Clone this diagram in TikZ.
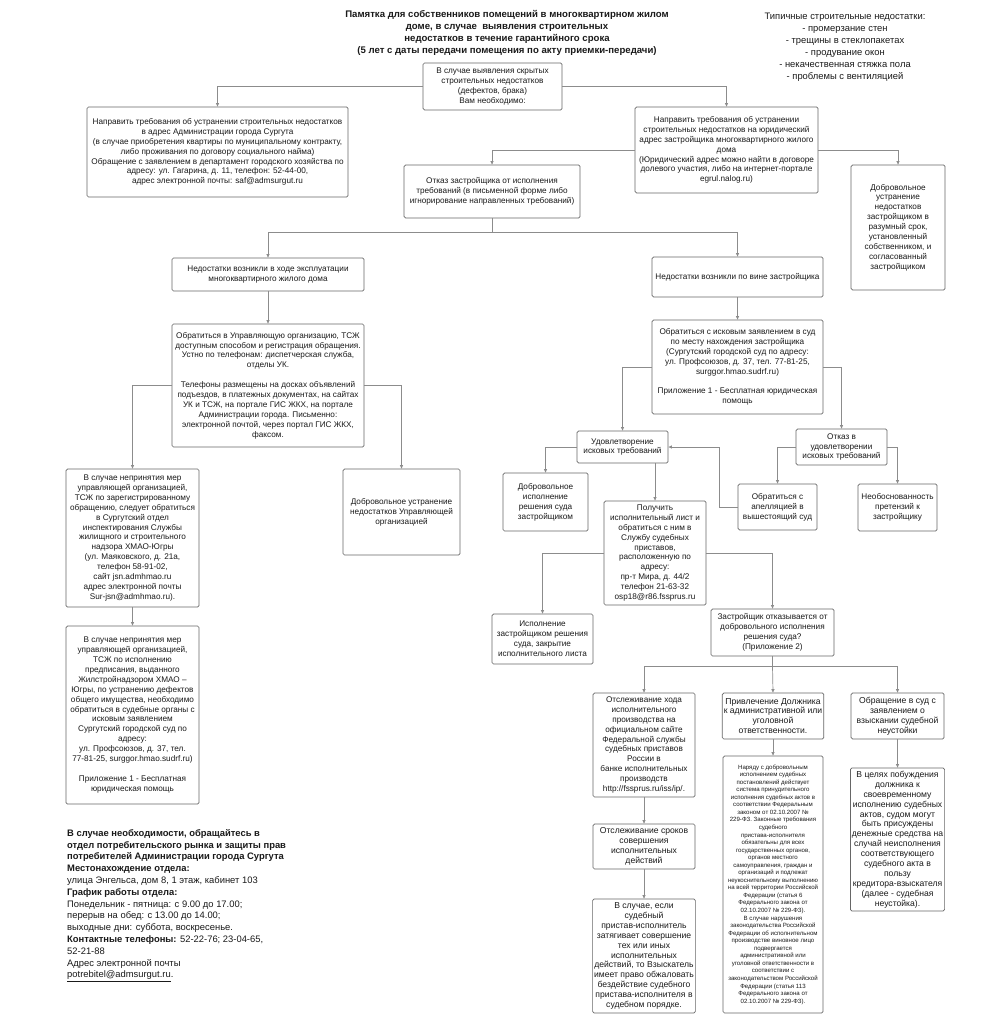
\documentclass[tikz,border=0pt]{standalone}
\usepackage{fontspec}
\setmainfont{Liberation Sans}
\usetikzlibrary{arrows.meta, positioning}

\definecolor{edge}{HTML}{666666}
\definecolor{wire}{HTML}{8C8C8C}
\definecolor{ink}{HTML}{1A1A1A}

\begin{document}
\begin{tikzpicture}[
		x=1pt, y=-1pt,
		box/.style={rectangle, draw=edge, line width=0.7pt, rounded corners=1.5pt, fill=white, align=center, inner sep=1.5pt, text=ink, font=\fontsize{8.2}{9.9}\selectfont},
		bigbox/.style={box, font=\fontsize{8.6}{9.9}\selectfont},
		tinybox/.style={box, font=\fontsize{6.1}{7.55}\selectfont},
		line/.style={draw=wire, line width=0.7pt},
		arrow/.style={line, -{Triangle[length=3.5pt, width=3pt]}}
		]
		\useasboundingbox[fill=white] (0,0) rectangle (980,1024);

		\node[align=center, text=ink, font=\fontsize{9.6}{12.1}\selectfont\bfseries] (title) at (507,33) {Памятка для собственников помещений в многоквартирном жилом\\доме, в случае\ \ выявления строительных\\недостатков в течение гарантийного срока\\(5 лет с даты передачи помещения по акту приемки-передачи)};
		\node[align=center, text=ink, font=\fontsize{9.4}{11.9}\selectfont] (typical) at (845,47) {Типичные строительные недостатки:\\- промерзание стен\\- трещины в стеклопакетах\\- продувание окон\\- некачественная стяжка пола\\- проблемы с вентиляцией};

		\node[box, minimum width=139pt, minimum height=47pt] (start) at (492.5,86.5) {В случае выявления скрытых\\строительных недостатков\\(дефектов, брака)\\Вам необходимо:};
		\node[box, minimum width=261pt, minimum height=90pt] (admin) at (217.5,152) {Направить требования об устранении строительных недостатков\\в адрес Администрации города Сургута\\(в случае приобретения квартиры по муниципальному контракту,\\либо проживания по договору социального найма)\\Обращение с заявлением в департамент городского хозяйства по\\адресу: ул. Гагарина, д. 11, телефон: 52-44-00,\\адрес электронной почты: saf@admsurgut.ru};
		\node[box, minimum width=183pt, minimum height=86pt] (developer) at (726.5,150) {Направить требования об устранении\\строительных недостатков на юридический\\адрес застройщика многоквартирного жилого\\дома\\(Юридический адрес можно найти в договоре\\долевого участия, либо на интернет-портале\\egrul.nalog.ru)};
		\node[box, minimum width=176pt, minimum height=53pt] (refusal) at (492,191.5) {Отказ застройщика от исполнения\\требований (в письменной форме либо\\игнорирование направленных требований)};
		\node[box, minimum width=94pt, minimum height=125pt] (voluntary) at (898,227.5) {Добровольное\\устранение\\недостатков\\застройщиком в\\разумный срок,\\установленный\\собственником, и\\согласованный\\застройщиком};

		\node[box, minimum width=192pt, minimum height=33pt] (operation) at (268,274.5) {Недостатки возникли в ходе эксплуатации\\многоквартирного жилого дома};
		\node[box, minimum width=171pt, minimum height=40pt] (fault) at (737.5,277) {Недостатки возникли по вине застройщика};

		\node[box, minimum width=192pt, minimum height=123pt] (managing) at (268,385.5) {Обратиться в Управляющую организацию, ТСЖ\\доступным способом и регистрация обращения.\\Устно по телефонам: диспетчерская служба,\\отделы УК.\\[9.9pt]Телефоны размещены на досках объявлений\\подъездов, в платежных документах, на сайтах\\УК и ТСЖ, на портале ГИС ЖКХ, на портале\\Администрации города. Письменно:\\электронной почтой, через портал ГИС ЖКХ,\\факсом.};
		\node[box, minimum width=171pt, minimum height=94pt] (lawsuit) at (737.5,367) {Обратиться с исковым заявлением в суд\\по месту нахождения застройщика\\(Сургутский городской суд по адресу:\\ул. Профсоюзов, д. 37, тел. 77-81-25,\\surggor.hmao.sudrf.ru)\\[9.9pt]Приложение 1 - Бесплатная юридическая\\помощь};

		\node[box, minimum width=133pt, minimum height=138pt] (inspection) at (132.5,538) {В случае непринятия мер\\управляющей организацией,\\ТСЖ по зарегистрированному\\обращению, следует обратиться\\в Сургутский отдел\\инспектирования Службы\\жилищного и строительного\\надзора ХМАО-Югры\\(ул. Маяковского, д. 21а,\\телефон 58-91-02,\\сайт jsn.admhmao.ru\\адрес электронной почты\\Sur-jsn@admhmao.ru).};
		\node[box, minimum width=133pt, minimum height=178pt] (court) at (132.5,715) {В случае непринятия мер\\управляющей организацией,\\ТСЖ по исполнению\\предписания, выданного\\Жилстройнадзором ХМАО –\\Югры, по устранению дефектов\\общего имущества, необходимо\\обратиться в судебные органы с\\исковым заявлением\\Сургутский городской суд по\\адресу:\\ул. Профсоюзов, д. 37, тел.\\77-81-25, surggor.hmao.sudrf.ru)\\[9.9pt]Приложение 1 - Бесплатная\\юридическая помощь};
		\node[box, minimum width=117pt, minimum height=86pt] (ukfix) at (401.5,512) {Добровольное устранение\\недостатков Управляющей\\организацией};

		\node[box, minimum width=91pt, minimum height=32pt] (satisfied) at (622.5,447) {Удовлетворение\\исковых требований};
		\node[box, minimum width=91pt, minimum height=36pt] (rejected) at (841.5,447) {Отказ в\\удовлетворении\\исковых требований};
		\node[box, minimum width=85pt, minimum height=58pt] (selfexec) at (545.5,502) {Добровольное\\исполнение\\решения суда\\застройщиком};
		\node[box, minimum width=102pt, minimum height=104pt] (writ) at (655,553) {Получить\\исполнительный лист и\\обратиться с ним в\\Службу судебных\\приставов,\\расположенную по\\адресу:\\пр-т Мира, д. 44/2\\телефон 21-63-32\\osp18@r86.fssprus.ru};
		\node[box, minimum width=79pt, minimum height=46pt] (appeal) at (777.5,507) {Обратиться с\\апелляцией в\\вышестоящий суд};
		\node[box, minimum width=79pt, minimum height=47pt] (unfounded) at (897.5,507.5) {Необоснованность\\претензий к\\застройщику};
		\node[box, minimum width=101pt, minimum height=50pt] (closed) at (542.5,639) {Исполнение\\застройщиком решения\\суда, закрытие\\исполнительного листа};
		\node[box, minimum width=123pt, minimum height=47pt] (evades) at (772.5,632.5) {Застройщик отказывается от\\добровольного исполнения\\решения суда?\\(Приложение 2)};

		\node[box, minimum width=102pt, minimum height=104pt] (tracking) at (644,745) {Отслеживание хода\\исполнительного\\производства на\\официальном сайте\\Федеральной службы\\судебных приставов\\России в\\банке исполнительных\\производств\\http://fssprus.ru/iss/ip/.};
		\node[bigbox, minimum width=100pt, minimum height=46pt] (liability) at (773,716) {Привлечение Должника\\к административной или\\уголовной\\ответственности.};
		\node[bigbox, minimum width=93pt, minimum height=46pt] (penalty) at (897.5,716) {Обращение в суд с\\заявлением о\\взыскании судебной\\неустойки};
		\node[bigbox, minimum width=102pt, minimum height=45pt] (deadlines) at (644,846.5) {Отслеживание сроков\\совершения\\исполнительных\\действий};
		\node[bigbox, minimum width=102pt, minimum height=114pt] (complaint) at (644,956) {В случае, если\\судебный\\пристав-исполнитель\\затягивает совершение\\тех или иных\\исполнительных\\действий, то Взыскатель\\имеет право обжаловать\\бездействие судебного\\пристава-исполнителя в\\судебном порядке.};
		\node[tinybox, minimum width=100pt, minimum height=257pt] (enforcement) at (773,884.5) {Наряду с добровольным\\исполнением судебных\\постановлений действует\\система принудительного\\исполнения судебных актов в\\соответствии Федеральным\\законом от 02.10.2007 №\\229-ФЗ. Законные требования\\судебного\\пристава-исполнителя\\обязательны для всех\\государственных органов,\\органов местного\\самоуправления, граждан и\\организаций и подлежат\\неукоснительному выполнению\\на всей территории Российской\\Федерации (статья 6\\Федерального закона от\\02.10.2007 № 229-ФЗ).\\В случае нарушения\\законодательства Российской\\Федерации об исполнительном\\производстве виновное лицо\\подвергается\\административной или\\уголовной ответственности в\\соответствии с\\законодательством Российской\\Федерации (статья 113\\Федерального закона от\\02.10.2007 № 229-ФЗ).};
		\node[bigbox, minimum width=93pt, minimum height=143pt] (astreinte) at (897.5,839.5) {В целях побуждения\\должника к\\своевременному\\исполнению судебных\\актов, судом могут\\быть присуждены\\денежные средства на\\случай неисполнения\\соответствующего\\судебного акта в\\пользу\\кредитора-взыскателя\\(далее - судебная\\неустойка).};

		\node[anchor=north west, align=left, text=ink, inner sep=0pt, font=\fontsize{9.4}{11.8}\selectfont] (contacts) at (67,829) {\textbf{В случае необходимости, обращайтесь в}\\\textbf{отдел потребительского рынка и защиты прав}\\\textbf{потребителей Администрации города Сургута}\\\textbf{Местонахождение отдела:}\\улица Энгельса, дом 8, 1 этаж, кабинет 103\\\textbf{График работы отдела:}\\Понедельник - пятница: с 9.00 до 17.00;\\перерыв на обед: с 13.00 до 14.00;\\выходные дни: суббота, воскресенье.\\\textbf{Контактные телефоны:} 52-22-76; 23-04-65,\\52-21-88\\Адрес электронной почты\\\underline{potrebitel@admsurgut.ru}.};

		\coordinate (split1) at (492,232);
		\coordinate (split2) at (772.5,666);
		\coordinate (back) at (719,447);

		\draw[arrow] (start.west) -| (admin.north);
		\draw[arrow] (start.east) -| (developer.north);
		\draw[arrow] (developer.west) -| (refusal.north);
		\draw[arrow] (developer.east) -| (voluntary.north);
		\draw[line] (refusal.south) -- (split1);
		\draw[arrow] (split1) -| (operation.north);
		\draw[arrow] (split1) -| (fault.north);
		\draw[arrow] (operation) -- (managing);
		\draw[arrow] (fault) -- (lawsuit);
		\draw[arrow] (managing.west) -| (inspection.north);
		\draw[arrow] (managing.east) -| (ukfix.north);
		\draw[arrow] (inspection) -- (court);
		\draw[arrow] (lawsuit.west) -| (satisfied.north);
		\draw[arrow] (lawsuit.east) -| (rejected.north);
		\draw[arrow] (satisfied.west) -| (selfexec.north);
		\draw[arrow] (satisfied.south -| writ.north) -- (writ.north);
		\draw[arrow] (rejected.west) -| (appeal.north);
		\draw[arrow] (rejected.east) -| (unfounded.north);
		\draw[arrow] (appeal.west) -| (back) -- (satisfied.east);
		\draw[arrow] (writ.west) -| (closed.north);
		\draw[arrow] (writ.east) -| (evades.north);
		\draw[line] (evades.south) -- (split2);
		\draw[arrow] (split2) -| (tracking.north);
		\draw[arrow] (split2) -- (liability.north);
		\draw[arrow] (split2) -| (penalty.north);
		\draw[arrow] (tracking) -- (deadlines);
		\draw[arrow] (deadlines) -- (complaint);
		\draw[arrow] (liability) -- (enforcement);
		\draw[arrow] (penalty) -- (astreinte);
	\end{tikzpicture}
\end{document}
